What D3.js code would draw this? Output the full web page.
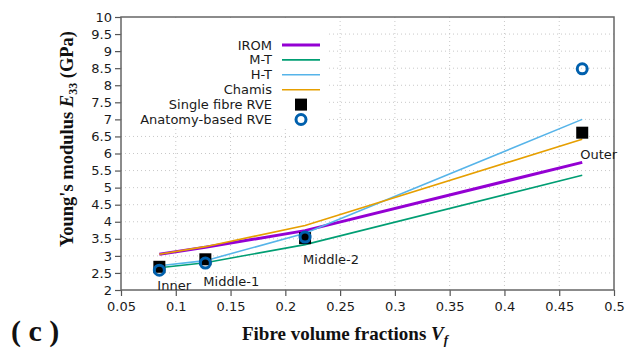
<!DOCTYPE html>
<html>
<head>
<meta charset="utf-8">
<script src="https://cdn.jsdelivr.net/npm/d3@7"></script>
<style>
  body { margin: 0; background: #fff; }
  svg { display: block; }
</style>
</head>
<body>
<svg id="chart" width="636" height="348"></svg>
<script>
// fibre volume fractions of the four regions
const vf = [0.085, 0.127, 0.218, 0.471];
const regionLabels = ["Inner", "Middle-1", "Middle-2", "Outer"];

// model curves
const irom = [3.05, 3.25, 3.74, 5.74];
const mt = [2.65, 2.80, 3.33, 5.36];
const ht = [2.71, 2.86, 3.66, 7.00];
const chamis = [3.05, 3.27, 3.89, 6.42];

// RVE results
const singleFibre = [2.68, 2.90, 3.52, 6.61];
const anatomyBased = [2.58, 2.79, 3.55, 8.48];

const xTicks = [0.05, 0.1, 0.15, 0.2, 0.25, 0.3, 0.35, 0.4, 0.45, 0.5];
const yTicks = [2, 2.5, 3, 3.5, 4, 4.5, 5, 5.5, 6, 6.5, 7, 7.5, 8, 8.5, 9, 9.5, 10];

const lines = [
    { name: "IROM", values: irom, color: "#9400d3", width: 3 },
    { name: "M-T", values: mt, color: "#009e73", width: 1.6 },
    { name: "H-T", values: ht, color: "#56b4e9", width: 1.6 },
    { name: "Chamis", values: chamis, color: "#e69f00", width: 1.6 }
];

const svg = d3.select("#chart");
const plotLeft = 121, plotRight = 614, plotTop = 17, plotBottom = 290;

const x = d3.scaleLinear().domain([0.05, 0.5]).range([plotLeft, plotRight]);
const y = d3.scaleLinear().domain([2, 10]).range([plotBottom, plotTop]);

// grid
svg.append("g")
    .selectAll("line")
    .data(xTicks.slice(1, -1))
    .join("line")
    .attr("x1", d => x(d)).attr("x2", d => x(d))
    .attr("y1", plotTop).attr("y2", plotBottom)
    .attr("stroke", "#c8c8c8").attr("stroke-dasharray", "1,3");

svg.append("g")
    .selectAll("line")
    .data(yTicks.slice(1, -1))
    .join("line")
    .attr("x1", plotLeft).attr("x2", plotRight)
    .attr("y1", d => y(d)).attr("y2", d => y(d))
    .attr("stroke", "#c8c8c8").attr("stroke-dasharray", "1,3");

// axes
const xAxis = d3.axisBottom(x).tickValues(xTicks).tickSize(6).tickPadding(6)
    .tickFormat(d => String(d));
const yAxis = d3.axisLeft(y).tickValues(yTicks).tickSize(6).tickPadding(3)
    .tickFormat(d => String(d));

const gx = svg.append("g")
    .attr("transform", `translate(0,${plotBottom})`)
    .call(xAxis);
const gy = svg.append("g")
    .attr("transform", `translate(${plotLeft},0)`)
    .call(yAxis);

[gx, gy].forEach(g => {
    g.select(".domain").remove();
    g.selectAll(".tick line").attr("stroke", "#555").attr("stroke-width", 1.2);
    g.selectAll(".tick text")
        .attr("fill", "#1a1a1a")
        .style("font-family", "DejaVu Sans")
        .style("font-size", "13px");
});

// frame
svg.append("rect")
    .attr("x", plotLeft).attr("y", plotTop)
    .attr("width", plotRight - plotLeft).attr("height", plotBottom - plotTop)
    .attr("fill", "none").attr("stroke", "#666").attr("stroke-width", 1.5);

// legend background
svg.append("rect")
    .attr("x", plotLeft + 1).attr("y", plotTop + 1)
    .attr("width", 327 - plotLeft).attr("height", 127 - plotTop)
    .attr("fill", "#fff");

// curves
const line = d3.line().x((d, i) => x(vf[i])).y(d => y(d));
lines.forEach(s => {
    svg.append("path")
        .datum(s.values)
        .attr("d", line)
        .attr("fill", "none")
        .attr("stroke", s.color)
        .attr("stroke-width", s.width);
});

// markers
svg.append("g")
    .selectAll("rect")
    .data(singleFibre)
    .join("rect")
    .attr("x", (d, i) => x(vf[i]) - 6)
    .attr("y", d => y(d) - 6)
    .attr("width", 12).attr("height", 12)
    .attr("fill", "#000");

svg.append("g")
    .selectAll("circle")
    .data(anatomyBased)
    .join("circle")
    .attr("cx", (d, i) => x(vf[i]))
    .attr("cy", d => y(d))
    .attr("r", 5)
    .attr("fill", "none")
    .attr("stroke", "#0060ad")
    .attr("stroke-width", 3);

// region labels
const labelDy = [20, 23, 26, 26];
svg.append("g")
    .selectAll("text")
    .data(regionLabels)
    .join("text")
    .attr("x", (d, i) => x(vf[i]) - 2)
    .attr("y", (d, i) => y(Math.min(singleFibre[i], anatomyBased[i])) + labelDy[i])
    .style("font-family", "DejaVu Sans")
    .style("font-size", "13px")
    .attr("fill", "#1a1a1a")
    .text(d => d);

// legend
const legendItems = lines.map(s => ({ name: s.name, type: "line", color: s.color, width: s.width }))
    .concat([
        { name: "Single fibre RVE", type: "square" },
        { name: "Anatomy-based RVE", type: "circle" }
    ]);
const lg = svg.append("g");
legendItems.forEach((item, i) => {
    const ly = 45 + i * 14.9;
    lg.append("text")
        .attr("x", 272).attr("y", ly + 4.5)
        .attr("text-anchor", "end")
        .style("font-family", "DejaVu Sans")
        .style("font-size", "13px")
        .attr("fill", "#1a1a1a")
        .text(item.name);
    if (item.type === "line") {
        lg.append("line")
            .attr("x1", 282).attr("x2", 320)
            .attr("y1", ly).attr("y2", ly)
            .attr("stroke", item.color).attr("stroke-width", item.width);
    } else if (item.type === "square") {
        lg.append("rect")
            .attr("x", 295).attr("y", ly - 6)
            .attr("width", 12).attr("height", 12)
            .attr("fill", "#000");
    } else {
        lg.append("circle")
            .attr("cx", 301).attr("cy", ly)
            .attr("r", 5)
            .attr("fill", "none")
            .attr("stroke", "#0060ad").attr("stroke-width", 3);
    }
});

// axis titles
const xt = svg.append("text")
    .attr("x", 345).attr("y", 340)
    .attr("text-anchor", "middle")
    .style("font-family", "Liberation Serif")
    .style("font-size", "19px")
    .style("font-weight", "bold")
    .attr("fill", "#111");
xt.append("tspan").text("Fibre volume fractions ");
xt.append("tspan").style("font-style", "italic").text("V");
xt.append("tspan").style("font-style", "italic").style("font-size", "13px").attr("dy", 4).text("f");

const yt = svg.append("text")
    .attr("transform", "translate(73,139) rotate(-90)")
    .attr("text-anchor", "middle")
    .style("font-family", "Liberation Serif")
    .style("font-size", "18.5px")
    .style("font-weight", "bold")
    .attr("fill", "#111");
yt.append("tspan").text("Young's modulus ");
yt.append("tspan").style("font-style", "italic").text("E");
yt.append("tspan").style("font-size", "12px").attr("dy", 4).text("33");
yt.append("tspan").attr("dy", -4).text(" (GPa)");

svg.append("text")
    .attr("x", 11).attr("y", 341)
    .style("font-family", "Liberation Serif")
    .style("font-size", "30px")
    .style("font-weight", "bold")
    .attr("fill", "#111")
    .text("( c )");
</script>
</body>
</html>
